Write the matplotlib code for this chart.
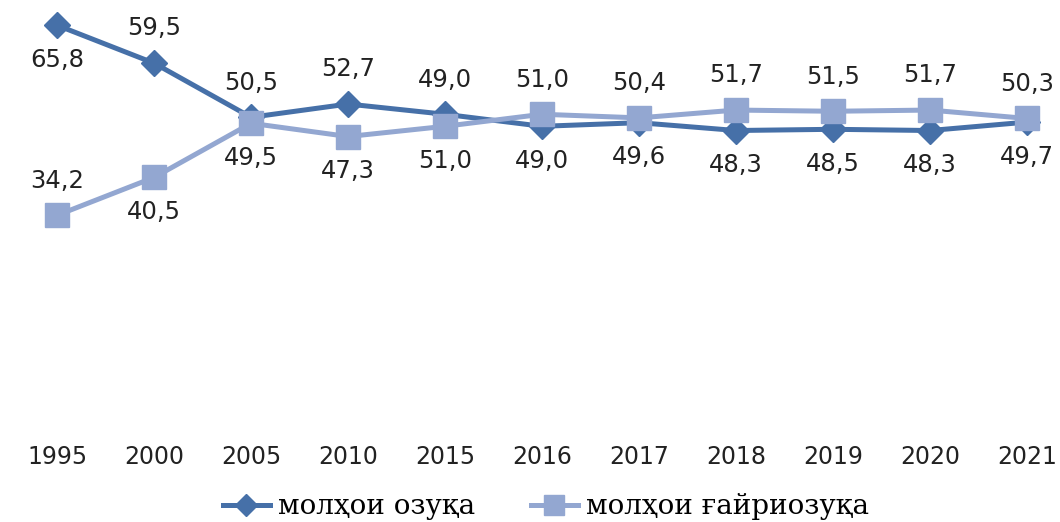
import matplotlib.pyplot as plt

# Data
years = ["1995", "2000", "2005", "2010", "2015", "2016", "2017", "2018", "2019", "2020", "2021"]
food = [65.8, 59.5, 50.5, 52.7, 51.0, 49.0, 49.6, 48.3, 48.5, 48.3, 49.7]
nonfood = [34.2, 40.5, 49.5, 47.3, 49.0, 51.0, 50.4, 51.7, 51.5, 51.7, 50.3]
food_labels = ["65,8", "59,5", "50,5", "52,7", "49,0", "49,0", "49,6", "48,3", "48,5", "48,3", "49,7"]
nonfood_labels = ["34,2", "40,5", "49,5", "47,3", "51,0", "51,0", "50,4", "51,7", "51,5", "51,7", "50,3"]
names = ["молҳои озуқа", "молҳои ғайриозуқа"]

# label side: 1 = above the marker, -1 = below
food_side = [-1, 1, 1, 1, 1, -1, -1, -1, -1, -1, -1]
nonfood_side = [1, -1, -1, -1, -1, 1, 1, 1, 1, 1, 1]

dark = '#4670a8'
light = '#93a7d1'

fig = plt.figure(figsize=(10.6, 5.22), dpi=100)
ax = fig.add_axes([0.0, 0.1935, 1.0, 0.8065])
x = list(range(len(years)))

ax.plot(x, food, color=dark, lw=3.6, marker='D', ms=13, label=names[0], zorder=3)
ax.plot(x, nonfood, color=light, lw=3.6, marker='s', ms=17, label=names[1], zorder=4)

for i in x:
    ax.annotate(food_labels[i], (i, food[i]), xytext=(0, 25 * food_side[i]),
                textcoords='offset points', ha='center', va='center',
                fontsize=17.5, color='#222222')
    ax.annotate(nonfood_labels[i], (i, nonfood[i]), xytext=(0, 25 * nonfood_side[i]),
                textcoords='offset points', ha='center', va='center',
                fontsize=17.5, color='#222222')

ax.set_xlim(-0.588, 10.34)
ax.set_ylim(0, 70)
ax.set_xticks(x)
ax.set_xticklabels(years, fontsize=17, color='#222222')
ax.set_yticks([])
ax.tick_params(axis='x', length=0, pad=17)
for s in ax.spines.values():
    s.set_visible(False)
ax.patch.set_alpha(0)

leg = fig.legend(loc='lower center', bbox_to_anchor=(0.515, -0.045), ncol=2, frameon=False,
                 prop={'family': 'DejaVu Serif', 'size': 20}, handlelength=1.7,
                 columnspacing=2.0, handletextpad=0.3)
leg.legend_handles[0].set_markersize(11)
leg.legend_handles[1].set_markersize(15)

fig.savefig('out.png', dpi=100)
